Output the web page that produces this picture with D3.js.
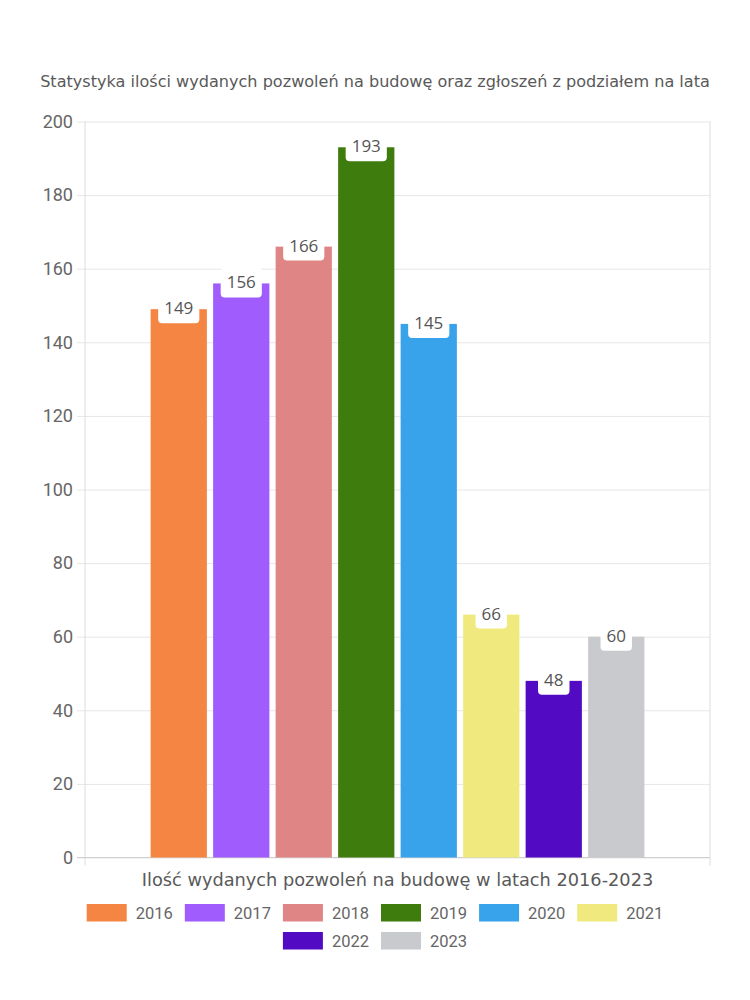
<!DOCTYPE html>
<html><head><meta charset="utf-8">
<script src="https://cdn.jsdelivr.net/npm/d3@7"></script>
<style>body{margin:0;background:#fff}svg{display:block}</style>
</head><body>
<script>
const years = ["2016","2017","2018","2019","2020","2021","2022","2023"];
const values = [149,156,166,193,145,66,48,60];
const colors = ["#F58542","#A05CFC","#E08585","#3E7C0D","#38A3EA","#F0EA7E","#520BC2","#C9CACE"];
const category = ["Ilość wydanych pozwoleń na budowę w latach 2016-2023"];
const yTicks = [0,20,40,60,80,100,120,140,160,180,200];
const title = "Statystyka ilości wydanych pozwoleń na budowę oraz zgłoszeń z podziałem na lata";

(function(){
const W=750,H=1000;
const svg=d3.select("body").append("svg").attr("width",W).attr("height",H);
const pl=85,pr=710,pt=121.5,pb=857.5;
const y=d3.scaleLinear().domain([0,200]).range([pb,pt]);
const x0=d3.scaleBand().domain(category).range([pl,pr]).paddingInner(0.2).paddingOuter(0.1);
const x1=d3.scaleBand().domain(years).range([x0(category[0]),x0(category[0])+x0.bandwidth()]).paddingInner(0.1).paddingOuter(0.05);

const roundFont="'Open Sans', sans-serif";
const wideFont="'DejaVu Sans', sans-serif";
const tickFont="Roboto, sans-serif";

function fitText(sel, target){
  const w=sel.node().getComputedTextLength();
  const fs=+sel.attr("font-size");
  sel.attr("font-size",fs*target/w);
}

const tt=svg.append("text").attr("x",375).attr("y",86.5).attr("text-anchor","middle")
  .attr("font-family",wideFont).attr("font-size",15).attr("fill","#595959").text(title);
fitText(tt,670);

const gy=svg.append("g").attr("transform",`translate(${pr},0)`);
gy.call(d3.axisLeft(y).tickValues(yTicks).tickSize(pr-pl+8).tickPadding(4));
gy.select(".domain").remove();
gy.selectAll(".tick line").attr("stroke","#e6e6e6").attr("stroke-width",1);
gy.selectAll(".tick text").attr("font-family",tickFont).attr("font-size",18).attr("fill","#666");

[pl,pr].forEach(xx=>{
  svg.append("line").attr("x1",xx).attr("x2",xx).attr("y1",pt).attr("y2",pb+8).attr("stroke","#dcdcdc");
});
svg.append("line").attr("x1",pl-8).attr("x2",pr).attr("y1",pb).attr("y2",pb).attr("stroke","#d0d0d0");

const bars=svg.append("g");
years.forEach((yr,i)=>{
  bars.append("rect").attr("x",x1(yr)).attr("y",y(values[i]))
    .attr("width",x1.bandwidth()).attr("height",y(0)-y(values[i])).attr("fill",colors[i]);
});
years.forEach((yr,i)=>{
  const cx=x1(yr)+x1.bandwidth()/2, cy=y(values[i])-1;
  const g=svg.append("g");
  const t=g.append("text").attr("x",cx).attr("y",cy).attr("dy","0.35em").attr("text-anchor","middle")
    .attr("font-family",roundFont).attr("font-size",17).attr("fill","#555").text(values[i]);
  const w=t.node().getComputedTextLength()+12;
  g.insert("rect","text").attr("x",cx-w/2).attr("y",cy-15).attr("width",w).attr("height",30)
    .attr("rx",4).attr("fill","#fff");
});

const at=svg.append("text").attr("x",(pl+pr)/2).attr("y",885.5).attr("text-anchor","middle")
  .attr("font-family",wideFont).attr("font-size",16).attr("fill","#595959").text(category[0]);
fitText(at,512);

const items=years.map((yr,i)=>({yr,c:colors[i]}));
const meas=svg.append("text").attr("font-family",tickFont).attr("font-size",16.5);
items.forEach(d=>{meas.text(d.yr);d.w=40+9+meas.node().getComputedTextLength()+12;});
meas.remove();
const rows=[];let cur=[],cw=0;
items.forEach(d=>{ if(cw+d.w>620&&cur.length){rows.push(cur);cur=[];cw=0;} cur.push(d);cw+=d.w;});
rows.push(cur);
rows.forEach((r,ri)=>{
  const tw=d3.sum(r,d=>d.w)-12;
  let xx=375-tw/2;
  const cy=913+ri*28;
  r.forEach(d=>{
    svg.append("rect").attr("x",xx).attr("y",cy-9).attr("width",40).attr("height",17.5).attr("fill",d.c);
    svg.append("text").attr("x",xx+49).attr("y",cy).attr("dy","0.35em").attr("font-family",tickFont)
      .attr("font-size",16.5).attr("fill","#666").text(d.yr);
    xx+=d.w;
  });
});
})();
</script>
</body></html>
